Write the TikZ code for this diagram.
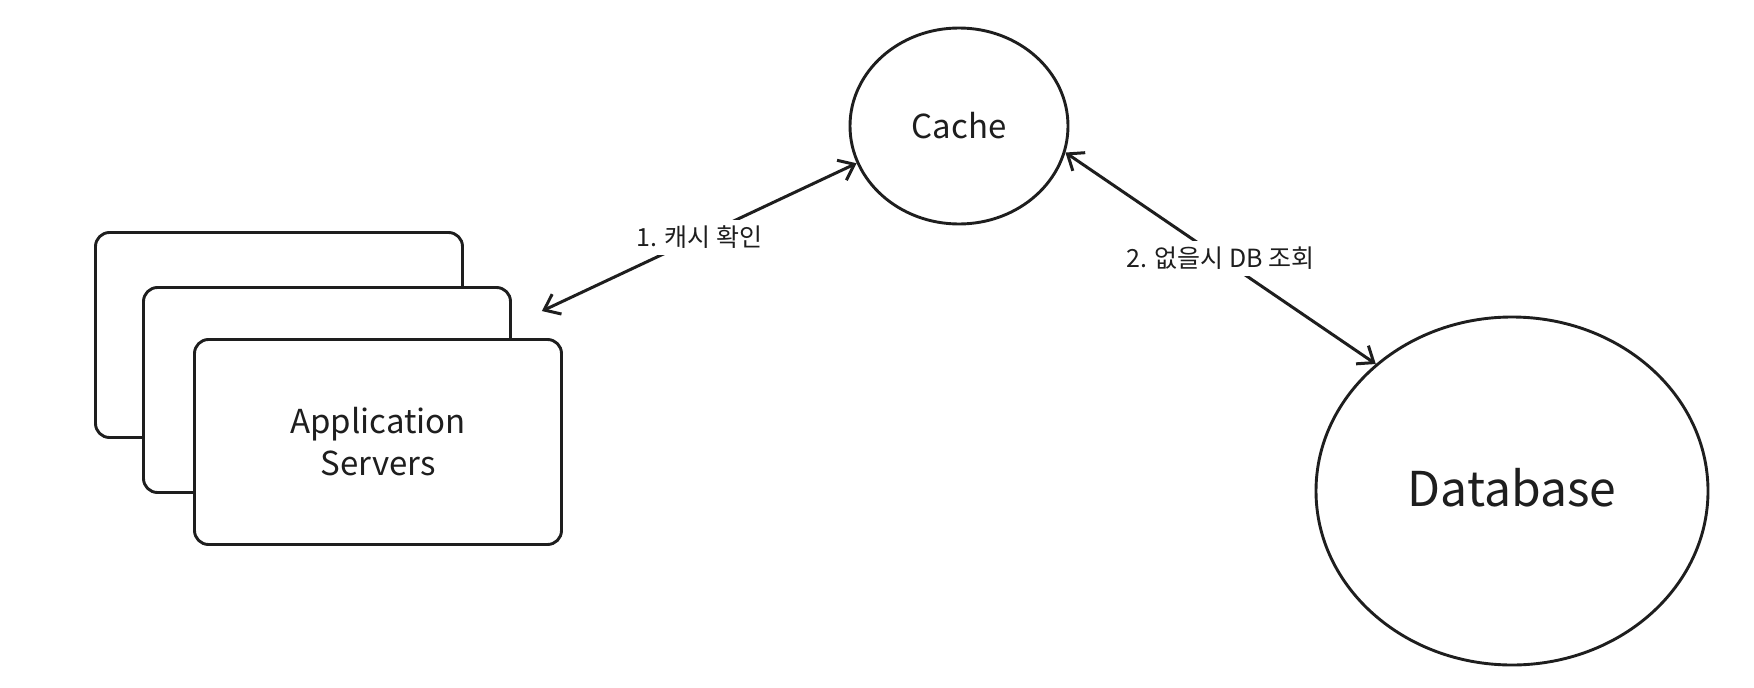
\documentclass[tikz,border=0pt]{standalone}
\usepackage{fontspec}
\setmainfont{Noto Sans CJK KR}
\usetikzlibrary{arrows.meta,positioning,calc,shapes.geometric}
\definecolor{clrInk}{RGB}{30,30,30}
\tikzset{
  srvbox/.style={rectangle,rounded corners=14pt,draw=clrInk,fill=white,line width=2.9pt,
    minimum width=367pt,minimum height=205pt,align=center,text=clrInk,
    font=\fontsize{33}{42}\selectfont},
  store/.style={ellipse,draw=clrInk,fill=white,line width=2.9pt,inner sep=0pt,text=clrInk},
  arrow/.style={{Straight Barb[length=14pt,width=22pt]}-{Straight Barb[length=14pt,width=22pt]},
    line width=3pt,color=clrInk,line cap=round},
  lbl/.style={fill=white,text=clrInk,inner sep=6pt,font=\fontsize{25}{30}\selectfont}
}
\begin{document}
\begin{tikzpicture}[x=1pt,y=-1pt]
  \useasboundingbox (0,0) rectangle (1754,688);
  % stacked server boxes, back to front
  \node[srvbox] (srvA) at (279,335) {};
  \node[srvbox] (srvB) at (327,390) {};
  \node[srvbox] (srv) at (378,442) {Application\\Servers};
  \node[store,minimum width=218pt,minimum height=196pt,font=\fontsize{33}{38}\selectfont]
    (cache) at (959,126) {Cache};
  \node[store,minimum width=392pt,minimum height=348pt,font=\fontsize{48}{56}\selectfont]
    (db) at (1512,491) {\raisebox{8pt}{Database}};
  \draw[arrow] ($(srvB.north east)+(30,25)$) -- (cache.200)
    node[lbl,midway] (l1) {1. 캐시 확인};
  \draw[arrow] (cache.346) -- (db.137)
    node[lbl,midway] (l2) {2. 없을시 DB 조회};
\end{tikzpicture}
\end{document}
